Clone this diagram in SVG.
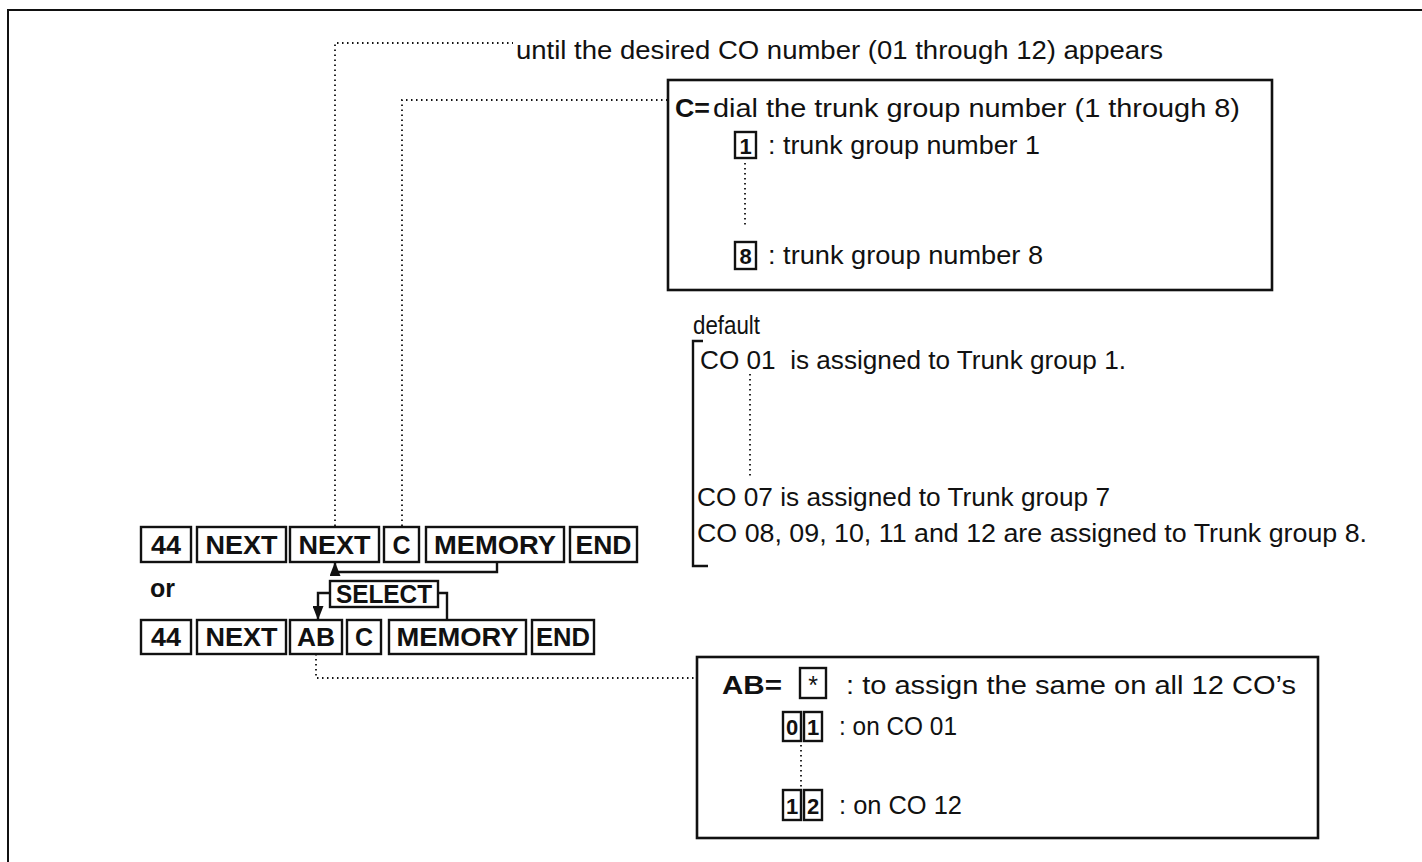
<svg xmlns="http://www.w3.org/2000/svg" width="1422" height="862" viewBox="0 0 1422 862">
<style>
.frame{fill:none;stroke:#111;stroke-width:2}
.box{fill:#fff;stroke:#111;stroke-width:2.6}
.key{fill:#fff;stroke:#111;stroke-width:2.4}
.kt{font-family:"Liberation Sans",Arial,sans-serif;font-weight:bold;font-size:25px;fill:#111;text-anchor:middle}
.t{font-family:"Liberation Sans",Arial,sans-serif;font-size:25px;fill:#111}
.b{font-family:"Liberation Sans",Arial,sans-serif;font-size:25px;font-weight:bold;fill:#111}
.dot{fill:none;stroke:#111;stroke-width:1.8;stroke-dasharray:1.5 3.5}
.ln{fill:none;stroke:#111;stroke-width:2.4}
</style>
<defs>
<marker id="arr" viewBox="0 0 14 11" refX="13" refY="5.5" markerWidth="14" markerHeight="11" markerUnits="userSpaceOnUse" orient="auto">
<path d="M0,0 L14,5.5 L0,11 z" fill="#111"/>
</marker>
</defs>
<rect width="1422" height="862" fill="#fff"/>
<path class="frame" d="M8,862 L8,10 L1422,10"/>

<g id="connectors">
<path class="dot" d="M335,526 L335,43 L513,43"/>
<path class="dot" d="M402,526 L402,100 L668,100"/>
<path class="dot" d="M316,654 L316,678 L697,678"/>
<path class="ln" d="M497,562 L497,572 L335,572 L335,563" marker-end="url(#arr)"/>
<path class="ln" d="M330,593 L318,593 L318,619" marker-end="url(#arr)"/>
<path class="ln" d="M438,593 L447,593 L447,620"/>
</g>

<g id="label-until">
<text class="t" x="516" y="59" textLength="647" lengthAdjust="spacingAndGlyphs">until the desired CO number (01 through 12) appears</text>
</g>

<g id="box-c">
<rect class="box" x="668" y="80" width="604" height="210"/>
<text class="b" x="675" y="117" textLength="35" lengthAdjust="spacingAndGlyphs">C=</text>
<text class="t" x="713" y="117" textLength="527" lengthAdjust="spacingAndGlyphs">dial the trunk group number (1 through 8)</text>
<rect class="key" x="735" y="132" width="21" height="26"/>
<text class="kt" x="745.5" y="154" style="font-size:22px">1</text>
<text class="t" x="768" y="154" textLength="272" lengthAdjust="spacingAndGlyphs">: trunk group number 1</text>
<path class="dot" d="M745,163 L745,228"/>
<rect class="key" x="735" y="242" width="21" height="27"/>
<text class="kt" x="745.5" y="264" style="font-size:22px">8</text>
<text class="t" x="768" y="264" textLength="275" lengthAdjust="spacingAndGlyphs">: trunk group number 8</text>
</g>

<g id="default">
<text class="t" x="693" y="334" textLength="67" lengthAdjust="spacingAndGlyphs">default</text>
<path class="ln" d="M703,341 L693,341 L693,566 L708,566"/>
<text class="t" x="700" y="369" textLength="426" lengthAdjust="spacingAndGlyphs" style="white-space:pre">CO 01  is assigned to Trunk group 1.</text>
<path class="dot" d="M750,374 L750,476"/>
<text class="t" x="697" y="506" textLength="413" lengthAdjust="spacingAndGlyphs">CO 07 is assigned to Trunk group 7</text>
<text class="t" x="697" y="542" textLength="670" lengthAdjust="spacingAndGlyphs">CO 08, 09, 10, 11 and 12 are assigned to Trunk group 8.</text>
</g>

<g id="row1">
<rect class="key" x="141" y="527" width="50" height="35"/><text class="kt" x="166" y="554" textLength="30" lengthAdjust="spacingAndGlyphs">44</text>
<rect class="key" x="197" y="527" width="89" height="35"/><text class="kt" x="241.5" y="554" textLength="72" lengthAdjust="spacingAndGlyphs">NEXT</text>
<rect class="key" x="290" y="527" width="89" height="35"/><text class="kt" x="334.5" y="554" textLength="72" lengthAdjust="spacingAndGlyphs">NEXT</text>
<rect class="key" x="384" y="527" width="35" height="35"/><text class="kt" x="401.5" y="554">C</text>
<rect class="key" x="426" y="527" width="138" height="35"/><text class="kt" x="495" y="554" textLength="122" lengthAdjust="spacingAndGlyphs">MEMORY</text>
<rect class="key" x="570" y="527" width="67" height="35"/><text class="kt" x="603.5" y="554" textLength="56" lengthAdjust="spacingAndGlyphs">END</text>
</g>

<g id="or">
<text class="b" x="150" y="597">or</text>
</g>

<g id="select">
<rect class="key" x="330" y="581" width="108" height="26"/>
<text class="kt" x="384" y="603" textLength="96" lengthAdjust="spacingAndGlyphs">SELECT</text>
</g>

<g id="row2">
<rect class="key" x="141" y="620" width="50" height="34"/><text class="kt" x="166" y="646" textLength="30" lengthAdjust="spacingAndGlyphs">44</text>
<rect class="key" x="197" y="620" width="89" height="34"/><text class="kt" x="241.5" y="646" textLength="72" lengthAdjust="spacingAndGlyphs">NEXT</text>
<rect class="key" x="290" y="620" width="52" height="34"/><text class="kt" x="316" y="646" textLength="38" lengthAdjust="spacingAndGlyphs">AB</text>
<rect class="key" x="347" y="620" width="34" height="34"/><text class="kt" x="364" y="646">C</text>
<rect class="key" x="389" y="620" width="137" height="34"/><text class="kt" x="457.5" y="646" textLength="122" lengthAdjust="spacingAndGlyphs">MEMORY</text>
<rect class="key" x="532" y="620" width="62" height="34"/><text class="kt" x="563" y="646" textLength="54" lengthAdjust="spacingAndGlyphs">END</text>
</g>

<g id="box-ab">
<rect class="box" x="697" y="657" width="621" height="181"/>
<text class="b" x="722" y="694" textLength="60" lengthAdjust="spacingAndGlyphs">AB=</text>
<rect class="key" x="800" y="668" width="26" height="30"/>
<text class="t" x="813" y="694" style="text-anchor:middle">*</text>
<text class="t" x="846" y="694" textLength="450" lengthAdjust="spacingAndGlyphs">: to assign the same on all 12 CO’s</text>
<rect class="key" x="783" y="712" width="18" height="29"/><text class="kt" x="792" y="735" style="font-size:22px">0</text>
<rect class="key" x="804" y="712" width="18" height="29"/><text class="kt" x="813" y="735" style="font-size:22px">1</text>
<text class="t" x="839" y="735" textLength="118" lengthAdjust="spacingAndGlyphs">: on CO 01</text>
<path class="dot" d="M801,745 L801,788"/>
<rect class="key" x="783" y="790" width="18" height="30"/><text class="kt" x="792" y="814" style="font-size:22px">1</text>
<rect class="key" x="804" y="790" width="18" height="30"/><text class="kt" x="813" y="814" style="font-size:22px">2</text>
<text class="t" x="839" y="814" textLength="123" lengthAdjust="spacingAndGlyphs">: on CO 12</text>
</g>
</svg>
